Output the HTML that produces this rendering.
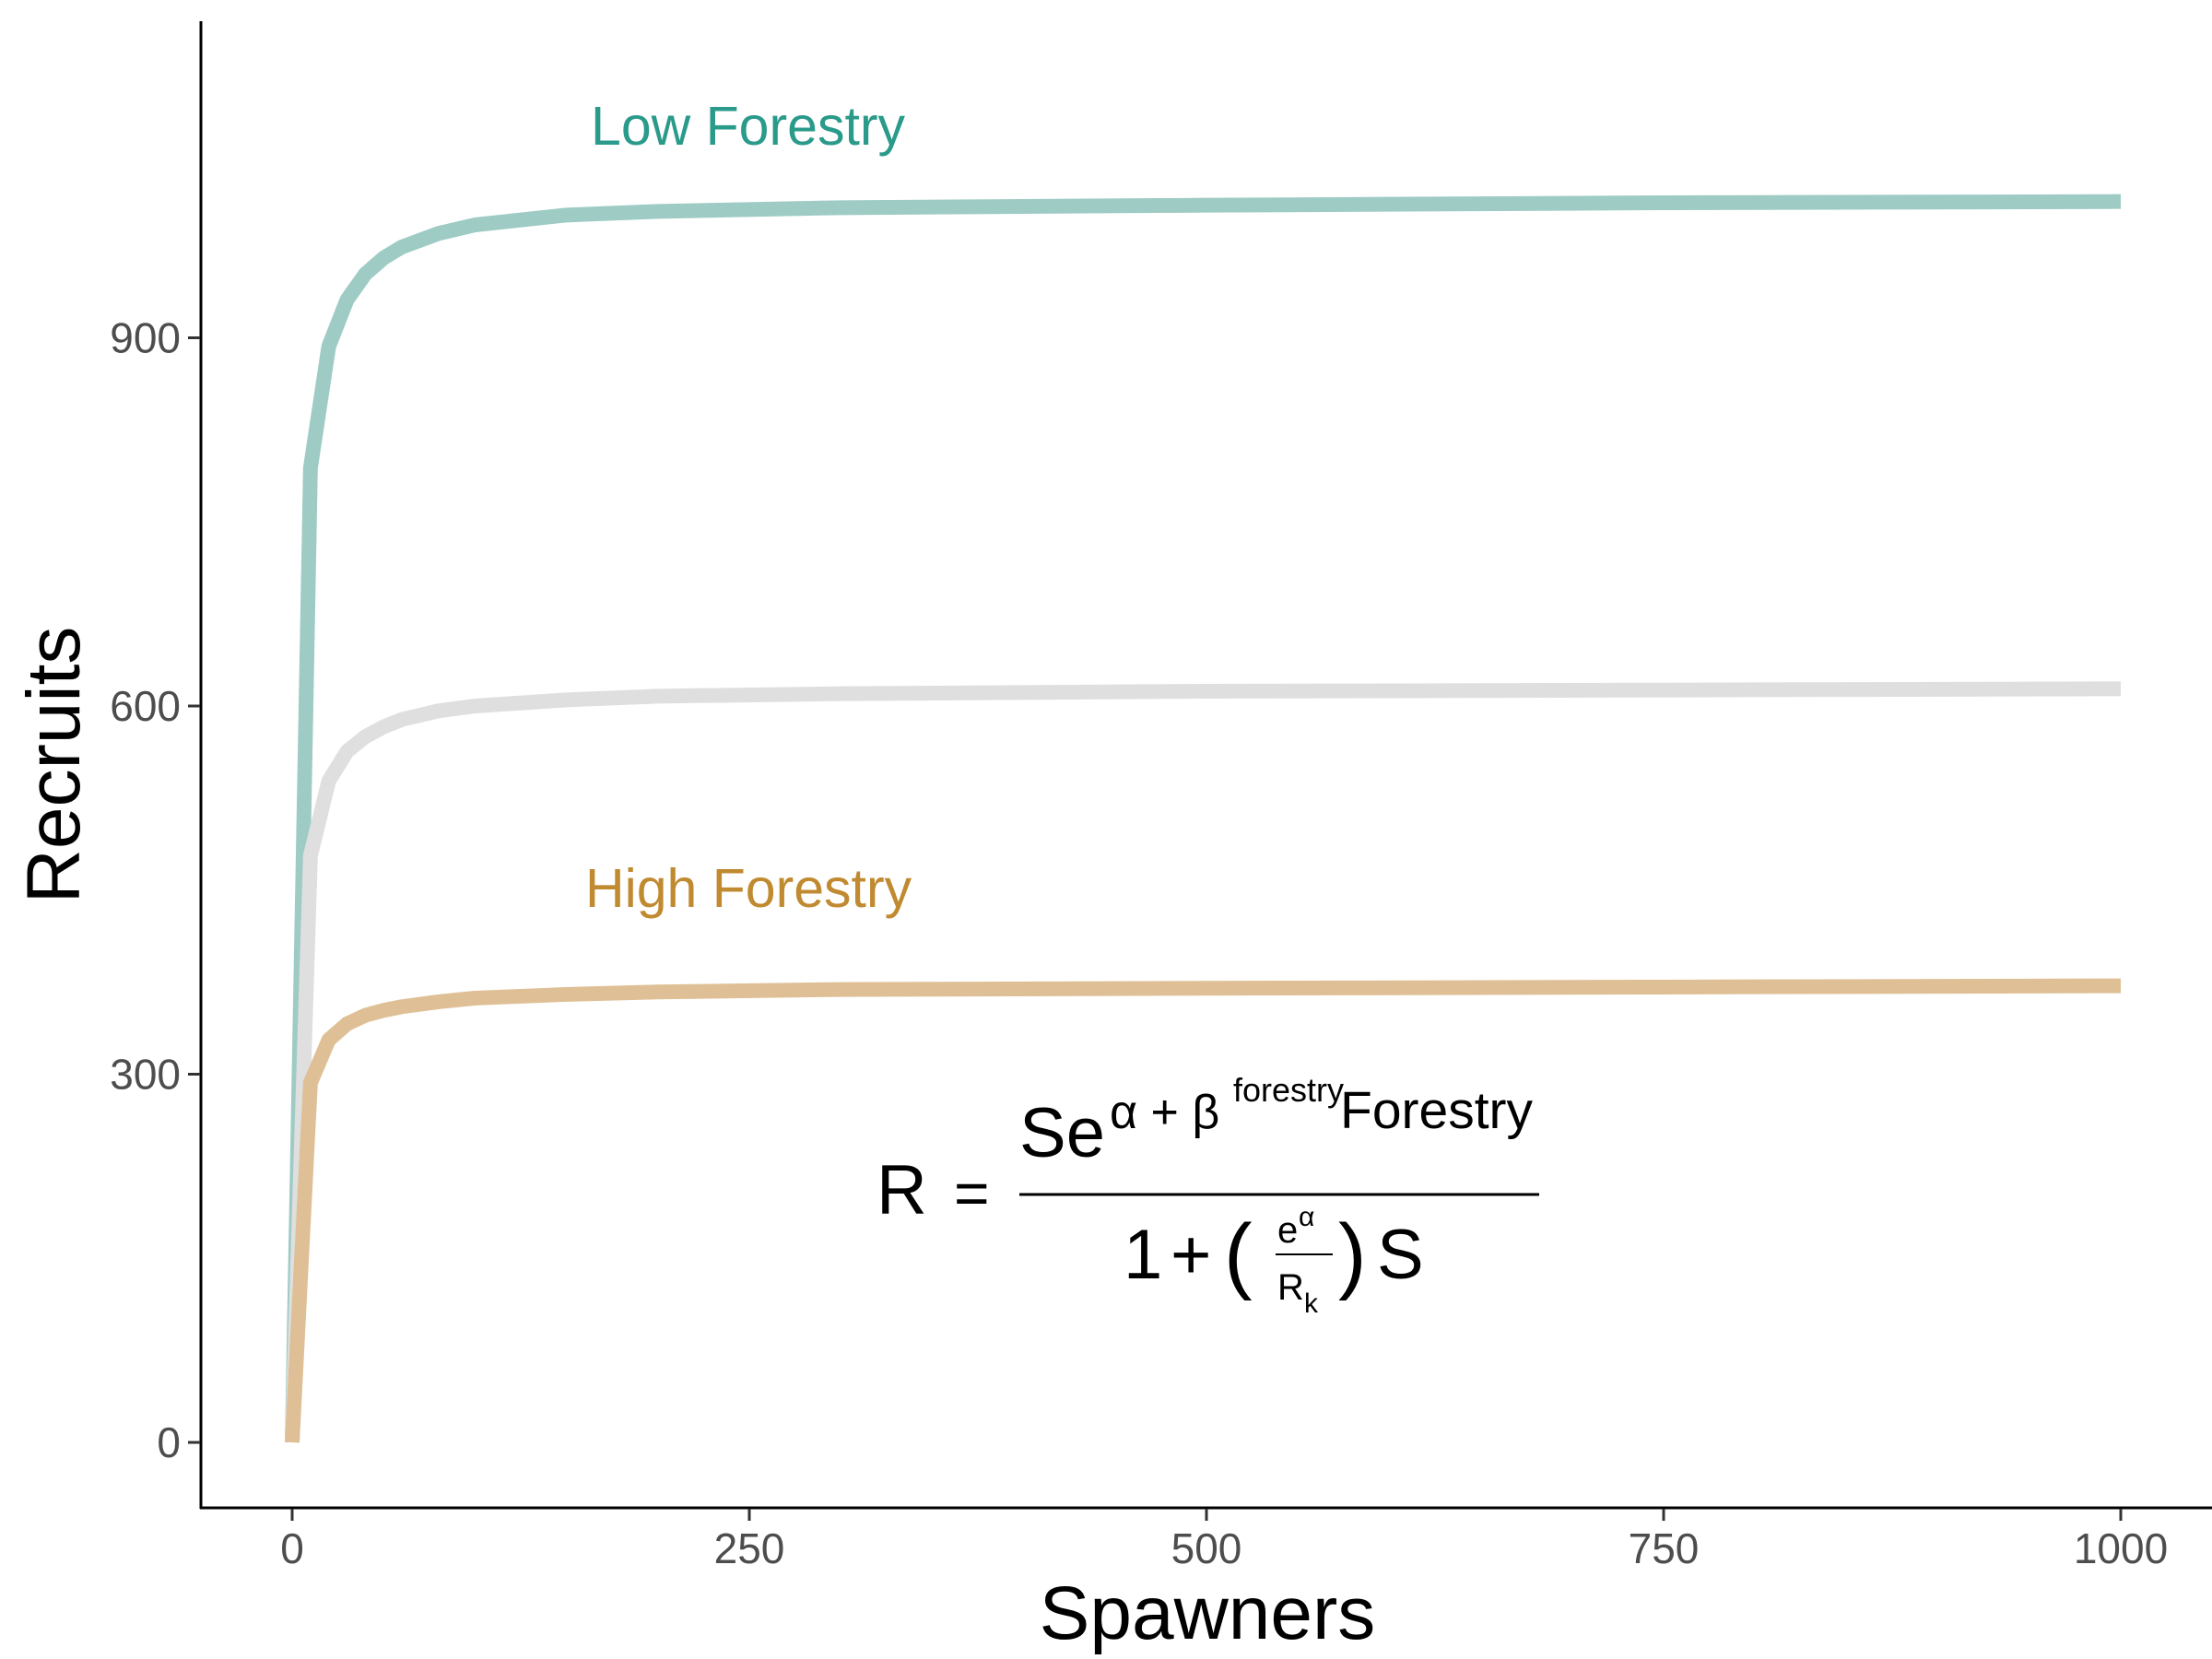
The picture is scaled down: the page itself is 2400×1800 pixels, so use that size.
<!DOCTYPE html>
<html><head><meta charset="utf-8"><style>
html,body{margin:0;padding:0;background:#fff}
svg{display:block}
text{font-family:"Liberation Sans",Arial,sans-serif}
</style></head><body>
<svg id="chart" width="2400" height="1800" xmlns="http://www.w3.org/2000/svg">
<rect width="2400" height="1800" fill="#fff"/>
<g id="series"></g>
<line x1="218" y1="23" x2="218" y2="1637" stroke="#000" stroke-width="3"/>
<line x1="217" y1="1636" x2="2400" y2="1636" stroke="#000" stroke-width="3"/>
<g id="xticks"></g>
<g id="yticks"></g>
<text x="1310" y="1778" font-size="82" text-anchor="middle" fill="#000">Spawners</text>
<text transform="translate(86,830) rotate(-90)" font-size="82" text-anchor="middle" fill="#000">Recruits</text>
<text x="641" y="157" font-size="59" fill="#2a9a8a">Low Forestry</text>
<text x="635" y="984" font-size="59" fill="#c08a30">High Forestry</text>
<g fill="#000">
<text x="951" y="1317" font-size="76">R</text>
<text x="1035" y="1317" font-size="66">=</text>
<text y="1255" font-size="76"><tspan x="1106">Se</tspan><tspan x="1204" y="1224" font-size="52">α + β</tspan><tspan x="1338" y="1195" font-size="36">forestry</tspan><tspan x="1454" y="1224" font-size="57">Forestry</tspan></text>
<line x1="1106" y1="1296" x2="1670" y2="1296" stroke="#000" stroke-width="3"/>
<text x="1219" y="1387" font-size="76">1</text>
<text x="1270" y="1387" font-size="76">+</text>
<text x="1328" y="1392" font-size="92">(</text>
<text x="1386" y="1348" font-size="40">e</text>
<text x="1409" y="1330" font-size="30">α</text>
<line x1="1384" y1="1361" x2="1446" y2="1361" stroke="#000" stroke-width="2"/>
<text x="1386" y="1410" font-size="40">R</text>
<text x="1415" y="1424" font-size="30">k</text>
<text x="1452" y="1392" font-size="92">)</text>
<text x="1494" y="1387" font-size="76">S</text>
</g>
</svg>
<script>
const spawners=[0,10,20,30,40,50,60,80,100,150,200,300,500,750,1000];
const lowForestry=[0,794,893,931,952,965,974,985,992,1000,1003,1006,1008,1010,1011];
const average=[0,478,539,563,575,583,589,596,600,605,608,610,612,613,614];
const highForestry=[0,293,328,341,348,352,355,359,362,365,367,369,370,371,372];
const xTicks=[0,250,500,750,1000];
const yTicks=[0,300,600,900];
const NS="http://www.w3.org/2000/svg";
const xs=v=>317+v*(2301-317)/1000;
const ys=v=>1565-v*(1565-366.5)/900;
function drawLine(vals,color,name){
  const p=document.createElementNS(NS,'polyline');
  p.setAttribute('points',spawners.map((s,i)=>xs(s)+','+ys(vals[i])).join(' '));
  p.setAttribute('fill','none');p.setAttribute('stroke',color);
  p.setAttribute('stroke-width','16');p.setAttribute('stroke-linejoin','round');
  
  
  document.getElementById('series').appendChild(p);
}
drawLine(lowForestry,'#9ecbc4','low-forestry-line');
drawLine(average,'#dfdfdf','average-line');
drawLine(highForestry,'#dfc096','high-forestry-line');
const xg=document.getElementById('xticks');
xTicks.forEach(v=>{
  const l=document.createElementNS(NS,'line');
  l.setAttribute('x1',xs(v));l.setAttribute('x2',xs(v));l.setAttribute('y1',1637);l.setAttribute('y2',1650);
  l.setAttribute('stroke','#333');l.setAttribute('stroke-width','3');
  
  
  xg.appendChild(l);
  const t=document.createElementNS(NS,'text');
  t.setAttribute('x',xs(v));t.setAttribute('y',1696);t.setAttribute('font-size','46');
  t.setAttribute('text-anchor','middle');t.setAttribute('fill','#4d4d4d');t.textContent=v;
  
  
  xg.appendChild(t);
});
const yg=document.getElementById('yticks');
yTicks.forEach(v=>{
  const l=document.createElementNS(NS,'line');
  l.setAttribute('x1',204);l.setAttribute('x2',217);l.setAttribute('y1',ys(v));l.setAttribute('y2',ys(v));
  l.setAttribute('stroke','#333');l.setAttribute('stroke-width','3');
  
  
  yg.appendChild(l);
  const t=document.createElementNS(NS,'text');
  t.setAttribute('x',196);t.setAttribute('y',ys(v)+16);t.setAttribute('font-size','46');
  t.setAttribute('text-anchor','end');t.setAttribute('fill','#4d4d4d');t.textContent=v;
  
  
  yg.appendChild(t);
});
</script>
</body></html>
